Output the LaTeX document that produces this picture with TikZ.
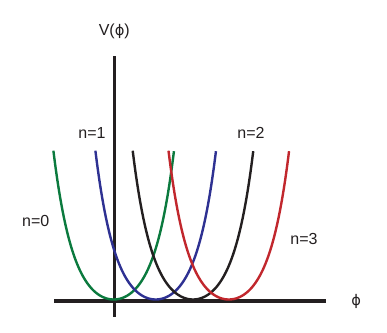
\documentclass[tikz,border=0pt]{standalone}
\usepackage{fontspec}
\setmainfont{Liberation Sans}
\newfontfamily\phifont{DejaVu Sans}
\usepackage{tikz}
\usetikzlibrary{positioning}
\definecolor{WellGreen}{HTML}{0B7A3E}
\definecolor{WellBlue}{HTML}{2E3192}
\definecolor{WellInk}{HTML}{231F20}
\definecolor{WellRed}{HTML}{C1272D}
\newcommand{\fieldsym}{{\phifont\fontsize{11}{14}\selectfont ϕ}}

\begin{document}
\begin{tikzpicture}[x=0.75pt,y=0.75pt,
  axis/.style={draw=WellInk,line width=2.3pt},
  well/.style={line width=1.8pt,domain=-1:1,samples=90,smooth},
  lbl/.style={font=\fontsize{12}{14}\selectfont,text=WellInk,inner sep=0pt}
]
\useasboundingbox (0,0) rectangle (387,333);
% axes
\coordinate (xl) at (54.3,32);
\coordinate (xr) at (325.7,32);
\coordinate (yb) at (114.3,16.3);
\coordinate (yt) at (114.3,277);
\draw[axis] (xl) -- (xr);
\draw[axis] (yb) -- (yt);
\node[lbl,above=13pt of yt] (vlab) {V(\fieldsym)};
\node[lbl,right=19pt of xr] (philab) {\fieldsym};
% wells n=0..3
\foreach \c/\col in {113.7/WellGreen,155.7/WellBlue,193/WellInk,228.8/WellRed}
  \draw[well,draw=\col] plot ({\c+60.3*\x},{33.5+148.8*(cosh(3*\x)-1)/(cosh(3)-1)});
\node[lbl] (n0) at (35.7,112.5) {n=0};
\node[lbl] (n1) at (92,200) {n=1};
\node[lbl] (n2) at (251,200) {n=2};
\node[lbl] (n3) at (304,94) {n=3};
\end{tikzpicture}
\end{document}
